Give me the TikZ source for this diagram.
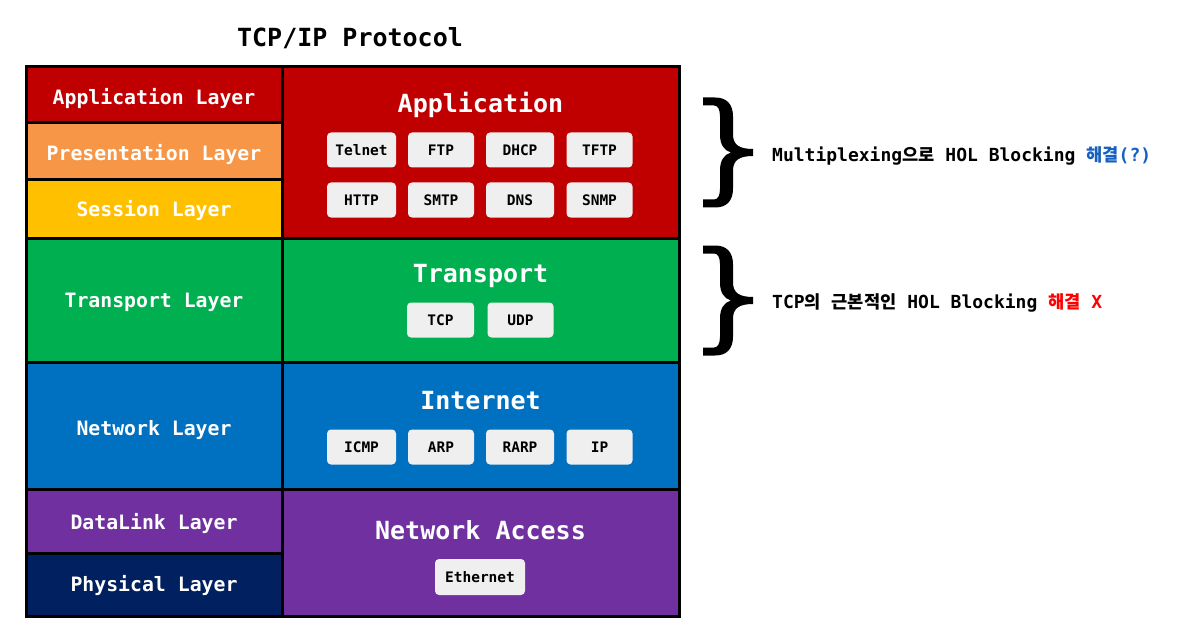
\documentclass[tikz,border=0pt]{standalone}
\usepackage{fontspec}
\newfontfamily\mono{DejaVu Sans Mono}
\newfontfamily\kr{Noto Sans CJK KR}
\definecolor{cApp}{HTML}{C00000}
\definecolor{cPres}{HTML}{F79646}
\definecolor{cSess}{HTML}{FFC000}
\definecolor{cTrans}{HTML}{00B050}
\definecolor{cNet}{HTML}{0070C0}
\definecolor{cLink}{HTML}{7030A0}
\definecolor{cPhys}{HTML}{002060}
\definecolor{chipgray}{HTML}{EFEFEF}
\definecolor{noteblue}{HTML}{1560C0}
\definecolor{notered}{HTML}{FF0000}
\newcommand\krs[1]{{\kr\bfseries\fontsize{17.6}{17.6}\selectfont #1}}
\tikzset{
  cell/.style={draw=black,line width=3pt,inner sep=0pt,text=white,
    font=\mono\bfseries\fontsize{19.8}{20}\selectfont,text height=14.4pt,text depth=0pt},
  lcell/.style={cell,minimum width=256pt},
  rcell/.style={cell,minimum width=397pt},
  ttl/.style={inner sep=0pt,text=white,font=\mono\bfseries\fontsize{25}{26}\selectfont,
    text height=18.2pt,text depth=0pt},
  chip/.style={fill=chipgray,rounded corners=4pt,inner sep=0pt,minimum width=67pt,
    minimum height=35pt,text=black,font=\mono\bfseries\fontsize{14.5}{15}\selectfont,
    text height=10.6pt,text depth=0pt},
  note/.style={inner sep=0pt,anchor=west,text=black,
    font=\mono\bfseries\fontsize{18}{18}\selectfont,text height=13.1pt,text depth=0pt},
  curly/.pic={
    \fill[black] (-24,-55) -- (-12,-55) .. controls (0,-55) and (6,-48) .. (6,-36)
      -- (6,-18) .. controls (6,-8) and (12,-3.5) .. (26,-3.5) -- (26,3.5)
      .. controls (12,3.5) and (6,8) .. (6,18) -- (6,36)
      .. controls (6,48) and (0,55) .. (-12,55) -- (-24,55) -- (-24,47) -- (-13,47)
      .. controls (-9,47) and (-7,43) .. (-7,36) -- (-7,18)
      .. controls (-7,8) and (-3,2) .. (4,0)
      .. controls (-3,-2) and (-7,-8) .. (-7,-18) -- (-7,-36)
      .. controls (-7,-43) and (-9,-47) .. (-13,-47) -- (-24,-47) -- cycle;
  }
}
\begin{document}
\begin{tikzpicture}[x=1pt,y=-1pt]
\useasboundingbox[fill=white] (0,0) rectangle (1180,639);
\node[inner sep=0pt,font=\mono\bfseries\fontsize{25}{26}\selectfont,text height=18.2pt,text depth=0pt] (title) at (350,37) {TCP/IP Protocol};
% left column
\node[lcell,fill=cApp,minimum height=56pt,text height=18.4pt] (lapp) at (154,95) {Application Layer};
\node[lcell,fill=cPres,minimum height=57pt,text height=18.4pt] (lpres) at (154,151.5) {Presentation Layer};
\node[lcell,fill=cSess,minimum height=58pt] (lsess) at (154,209) {Session Layer};
\node[lcell,fill=cTrans,minimum height=124pt] (ltrans) at (154,300) {Transport Layer};
\node[lcell,fill=cNet,minimum height=127pt,text height=19.8pt] (lnet) at (154,425.5) {Network Layer};
\node[lcell,fill=cLink,minimum height=64pt,text height=16pt] (llink) at (154,521) {DataLink Layer};
\node[lcell,fill=cPhys,minimum height=63pt] (lphys) at (154,584.5) {Physical Layer};
% right column
\node[rcell,fill=cApp,minimum height=171pt] (rapp) at (480.5,152.5) {};
\node[rcell,fill=cTrans,minimum height=124pt] (rtrans) at (480.5,300) {};
\node[rcell,fill=cNet,minimum height=127pt] (rnet) at (480.5,425.5) {};
\node[rcell,fill=cLink,minimum height=127pt] (racc) at (480.5,552.5) {};
% titles
\node[ttl] (tapp) at (480.5,103) {Application};
\node[ttl] (ttrans) at (480.5,273) {Transport};
\node[ttl] (tnet) at (480.5,400) {Internet};
\node[ttl] (tacc) at (480.5,530) {Network Access};
% chips
\node[chip,minimum width=69pt] (telnet) at (361.5,150) {Telnet};
\node[chip,minimum width=66pt] (ftp) at (441,150) {FTP};
\node[chip,minimum width=68pt] (dhcp) at (520,150) {DHCP};
\node[chip,minimum width=66pt] (tftp) at (599.5,150) {TFTP};
\node[chip,minimum width=69pt] (http) at (361.5,200) {HTTP};
\node[chip,minimum width=66pt] (smtp) at (441,200) {SMTP};
\node[chip,minimum width=68pt] (dns) at (520,200) {DNS};
\node[chip,minimum width=66pt] (snmp) at (599.5,200) {SNMP};
\node[chip,minimum width=67pt] (tcp) at (440.5,320) {TCP};
\node[chip,minimum width=66pt] (udp) at (520.5,320) {UDP};
\node[chip,minimum width=69pt] (icmp) at (361.5,447) {ICMP};
\node[chip,minimum width=66pt] (arp) at (441,447) {ARP};
\node[chip,minimum width=68pt] (rarp) at (520,447) {RARP};
\node[chip,minimum width=66pt] (ip) at (599.5,447) {IP};
\node[chip,minimum width=90pt,minimum height=36pt] (eth) at (480,577) {Ethernet};
% braces
\pic at (727,152.5) {curly};
\pic at (727,300.5) {curly};
% notes
\node[note] (note1) at (772,155) {Multiplexing\krs{으로} HOL Blocking \textcolor{noteblue}{\krs{해결}(?)}};
\node[note] (note2) at (772,302) {TCP\krs{의} \krs{근본적인} HOL Blocking \textcolor{notered}{\krs{해결} X}};
\end{tikzpicture}
\end{document}
